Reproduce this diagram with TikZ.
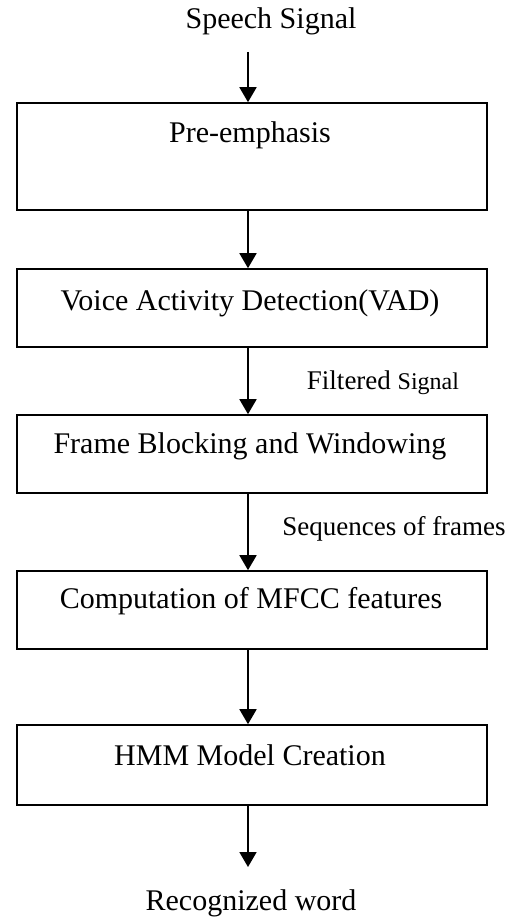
\documentclass[tikz,border=0pt]{standalone}
\usepackage{fontspec}
\setmainfont{Liberation Serif}
\usetikzlibrary{arrows.meta}
\tikzset{
  box/.style={draw=black, line width=1.6pt, minimum width=470pt, inner sep=0pt},
  txt/.style={anchor=base, inner sep=0pt, font=\fontsize{30}{36}\selectfont},
  lbl/.style={anchor=base, inner sep=0pt, font=\fontsize{27}{32}\selectfont},
  arr/.style={line width=1.8pt, -{Triangle[length=15pt,width=17pt]}}
}
\begin{document}
\begin{tikzpicture}[x=1pt,y=-1pt]
\useasboundingbox (0,0) rectangle (516,917);
\coordinate (ax) at (248,0);
% texts outside boxes
\node[txt] (sig) at (271,29) {Speech Signal};
\node[txt] (rec) at (251,910) {Recognized word};
\node[lbl] (filt) at (383,389) {Filtered {\fontsize{24}{28}\selectfont Signal}};
\node[lbl] (seq) at (394,535) {Sequences of frames};
% boxes
\node[box, minimum height=107pt] (b1) at (252,156.5) {};
\node[box, minimum height=78pt] (b2) at (252,308) {};
\node[box, minimum height=78pt] (b3) at (252,454) {};
\node[box, minimum height=78pt] (b4) at (252,610) {};
\node[box, minimum height=80pt] (b5) at (252,765) {};
% box texts
\node[txt] (t1) at (250,143) {Pre-emphasis};
\node[txt] (t2) at (250,310) {Voice Activity Detection(VAD)};
\node[txt] (t3) at (250,453) {Frame Blocking and Windowing};
\node[txt] (t4) at (251,608) {Computation of MFCC features};
\node[txt] (t5) at (250,765) {HMM Model Creation};
% arrow ends
\coordinate (a0) at (248,52);
\coordinate (a6) at (248,867);
% arrows
\draw[arr] (a0) -- (b1.north -| ax);
\draw[arr] (b1.south -| ax) -- (b2.north -| ax);
\draw[arr] (b2.south -| ax) -- (b3.north -| ax);
\draw[arr] (b3.south -| ax) -- (b4.north -| ax);
\draw[arr] (b4.south -| ax) -- (b5.north -| ax);
\draw[arr] (b5.south -| ax) -- (a6);
\end{tikzpicture}
\end{document}
